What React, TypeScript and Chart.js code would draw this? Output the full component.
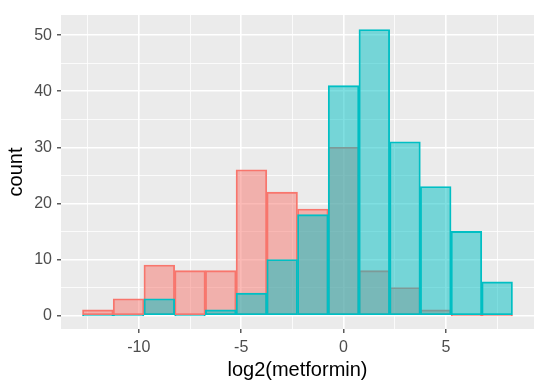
import React, { useEffect, useRef } from "react";
import { Chart, registerables } from "chart.js";

Chart.register(...registerables);

const binCenters = [-12, -10.5, -9, -7.5, -6, -4.5, -3, -1.5, 0, 1.5, 3, 4.5, 6, 7.5];
const redCounts = [1, 3, 9, 8, 8, 26, 22, 19, 30, 8, 5, 1, 0, 0];
const blueCounts = [0, 0, 3, 0, 1, 4, 10, 18, 41, 51, 31, 23, 15, 6];
const xTickValues = [-12.5, -10, -7.5, -5, -2.5, 0, 2.5, 5, 7.5];
const yTickValues = [0, 5, 10, 15, 20, 25, 30, 35, 40, 45, 50];

const FONT = "'Liberation Sans', Arial, sans-serif";

const bgPlugin = {
  id: "panelBg",
  beforeDraw(chart: any) {
    const { ctx, chartArea } = chart;
    ctx.save();
    ctx.fillStyle = "#EBEBEB";
    ctx.fillRect(chartArea.left, chartArea.top, chartArea.right - chartArea.left, chartArea.bottom - chartArea.top);
    ctx.restore();
  },
};

export default function App() {
  const ref = useRef<HTMLCanvasElement | null>(null);
  useEffect(() => {
    if (!ref.current) return;
    const isMajorX = (v: number) => Math.abs(v % 5) < 1e-9;
    const isMajorY = (v: number) => Math.abs(v % 10) < 1e-9;
    const chart = new Chart(ref.current, {
      type: "bar",
      data: {
        datasets: [
          {
            label: "b",
            data: binCenters.map((x, i) => ({ x, y: blueCounts[i] })),
            backgroundColor: "rgba(0,191,196,0.5)",
            borderColor: "#00BFC4",
            borderWidth: 1.2,
            borderSkipped: false,
            minBarLength: 1,
            grouped: false,
            barPercentage: 1,
            categoryPercentage: 1,
          },
          {
            label: "a",
            data: binCenters.map((x, i) => ({ x, y: redCounts[i] })),
            backgroundColor: "rgba(248,118,109,0.5)",
            borderColor: "#F8766D",
            borderWidth: 1.2,
            borderSkipped: false,
            minBarLength: 1,
            grouped: false,
            barPercentage: 1,
            categoryPercentage: 1,
          },
        ],
      },
      options: {
        animation: false,
        responsive: false,
        layout: { padding: { top: 15, right: 16, left: 0, bottom: 0 } },
        plugins: { legend: { display: false }, tooltip: { enabled: false } },
        scales: {
          x: {
            type: "linear",
            min: -13.8,
            max: 9.3,
            offset: false,
            afterBuildTicks: (scale: any) => {
              scale.ticks = xTickValues.map((v) => ({ value: v }));
            },
            afterFit: (scale: any) => {
              scale.height = 60;
            },
            border: { display: false },
            grid: {
              offset: false,
              color: "#FFFFFF",
              lineWidth: (ctx: any) => (isMajorX(ctx.tick.value) ? 1.6 : 0.8),
              tickColor: (ctx: any) => (isMajorX(ctx.tick.value) ? "#333333" : "rgba(0,0,0,0)"),
              tickLength: 4,
              tickWidth: 1.2,
            },
            ticks: {
              autoSkip: false,
              maxRotation: 0,
              padding: 5,
              color: "#4D4D4D",
              font: { family: FONT, size: 16 },
              callback: (v: any) => (isMajorX(Number(v)) ? String(v) : ""),
            },
            title: {
              display: true,
              text: "log2(metformin)",
              color: "#000000",
              font: { family: FONT, size: 20 },
              padding: { top: 0, bottom: 7 },
            },
          },
          y: {
            type: "linear",
            min: -2.4,
            max: 53.6,
            afterBuildTicks: (scale: any) => {
              scale.ticks = yTickValues.map((v) => ({ value: v }));
            },
            afterFit: (scale: any) => {
              scale.width = 61;
            },
            border: { display: false },
            grid: {
              color: "#FFFFFF",
              lineWidth: (ctx: any) => (isMajorY(ctx.tick.value) ? 1.6 : 0.8),
              tickColor: (ctx: any) => (isMajorY(ctx.tick.value) ? "#333333" : "rgba(0,0,0,0)"),
              tickLength: 4,
              tickWidth: 1.2,
            },
            ticks: {
              autoSkip: false,
              padding: 5,
              color: "#4D4D4D",
              font: { family: FONT, size: 16 },
              callback: (v: any) => (isMajorY(Number(v)) ? String(v) : ""),
            },
            title: {
              display: true,
              text: "count",
              color: "#000000",
              font: { family: FONT, size: 20 },
              padding: { top: 4, bottom: 0 },
            },
          },
        },
      },
      plugins: [bgPlugin],
    } as any);
    return () => chart.destroy();
  }, []);
  return (
    <div style={{ position: "fixed", left: 0, top: 0, width: 550, height: 389, background: "#FFFFFF" }}>
      <canvas ref={ref} width={550} height={389} style={{ display: "block" }} />
    </div>
  );
}
